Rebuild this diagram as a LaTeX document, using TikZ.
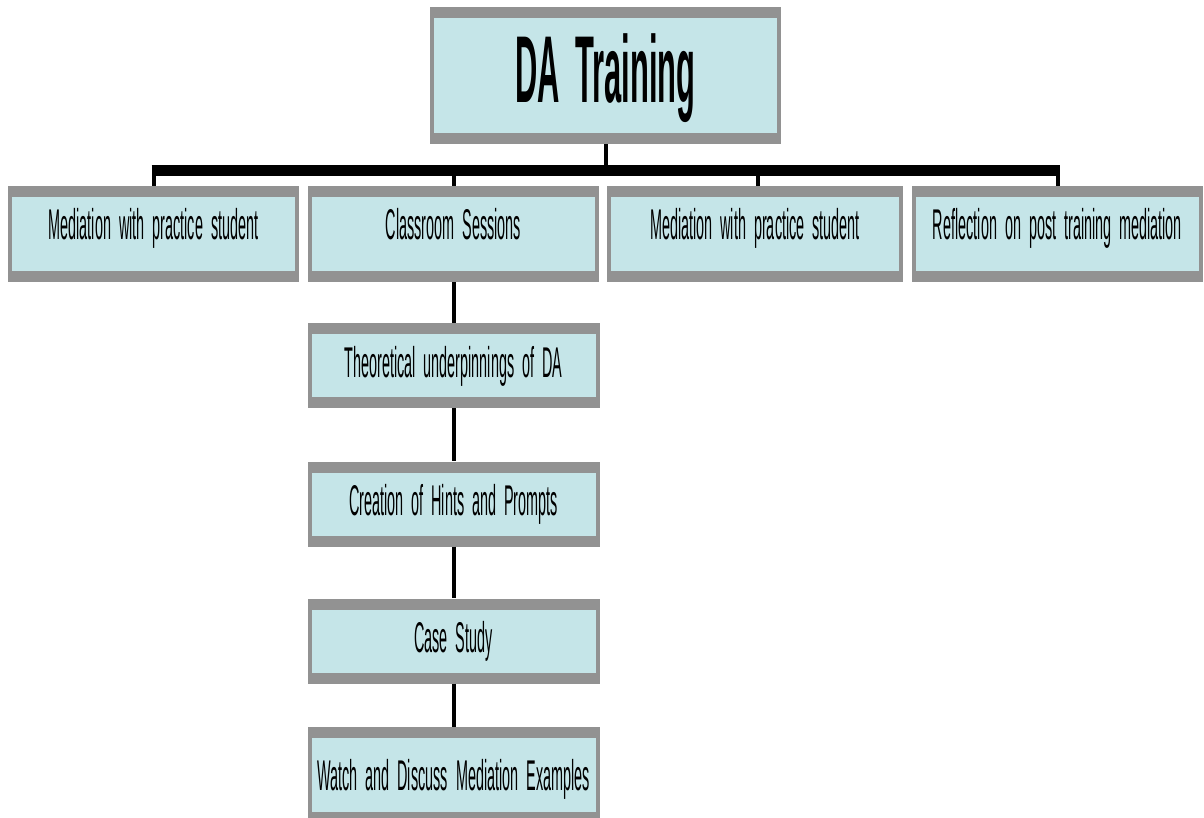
\documentclass[tikz,border=0pt]{standalone}
\usepackage{fontspec}
\newfontfamily\narrowfont{Liberation Sans}[FakeStretch=0.335,WordSpace=2]
\newfontfamily\titlefont{Liberation Sans}[FakeStretch=0.325,WordSpace=1.8]
\definecolor{boxgray}{RGB}{146,146,146}
\definecolor{boxfill}{RGB}{197,229,232}
\tikzset{
  tbox/.style={fill=boxgray,inner sep=0pt,
    path picture={\fill[boxfill] ([xshift=4pt,yshift=-11pt]path picture bounding box.north west) rectangle ([xshift=-4pt,yshift=11pt]path picture bounding box.south east);}},
  topbox/.style={tbox,minimum width=351pt,minimum height=137pt,
    font=\titlefont\bfseries\fontsize{95}{100}\selectfont,text height=68pt,text depth=13pt},
  midbox/.style={tbox,minimum width=291pt,minimum height=96pt,
    font=\narrowfont\fontsize{43}{48}\selectfont,text height=31pt,text depth=20pt},
  subbox/.style={tbox,minimum width=292pt,minimum height=85pt,
    font=\narrowfont\fontsize{43}{48}\selectfont,text height=31pt,text depth=8pt},
  stem/.style={line width=4pt,black},
  bar/.style={line width=11pt,black}
}
\begin{document}
\begin{tikzpicture}[x=1pt,y=-1pt,line cap=butt]
\useasboundingbox (0,0) rectangle (1204,818);
% top
\node[topbox] (top) at (605.5,75.5) {DA Training};
% first row
\node[midbox] (med1) at (153.5,234) {Mediation with practice student};
\node[midbox] (class) at (453.5,234) {Classroom Sessions};
\node[midbox,minimum width=296pt] (med2) at (755,234) {Mediation with practice student};
\node[midbox] (refl) at (1057.5,234) {Reflection on post training mediation};
% classroom column
\node[subbox] (theory) at (453.5,365.5) {Theoretical underpinnings of DA};
\node[subbox] (hints) at (453.5,504) {Creation of Hints and Prompts};
\node[subbox] (case) at (453.5,641) {Case Study};
\node[subbox,minimum height=96pt,text depth=0pt] (watch) at (453.5,775) {Watch and Discuss Mediation Examples};
% connectors
\coordinate (hub) at (top.south |- 0,170.5);
\draw[stem] (top.south) -- (hub);
\draw[bar] ([xshift=-2pt]med1.north |- hub) -- ([xshift=2pt]refl.north |- hub);
\foreach \n/\dx in {med1/0,class/0,med2/3,refl/0}
  \draw[stem] ([xshift=\dx pt]\n.north |- hub) -- ([xshift=\dx pt]\n.north);
\draw[stem] (class.south) -- (theory.north);
\draw[stem] (theory.south) -- (hints.north);
\draw[stem] (hints.south) -- (case.north);
\draw[stem] (case.south) -- (watch.north);
\end{tikzpicture}
\end{document}
